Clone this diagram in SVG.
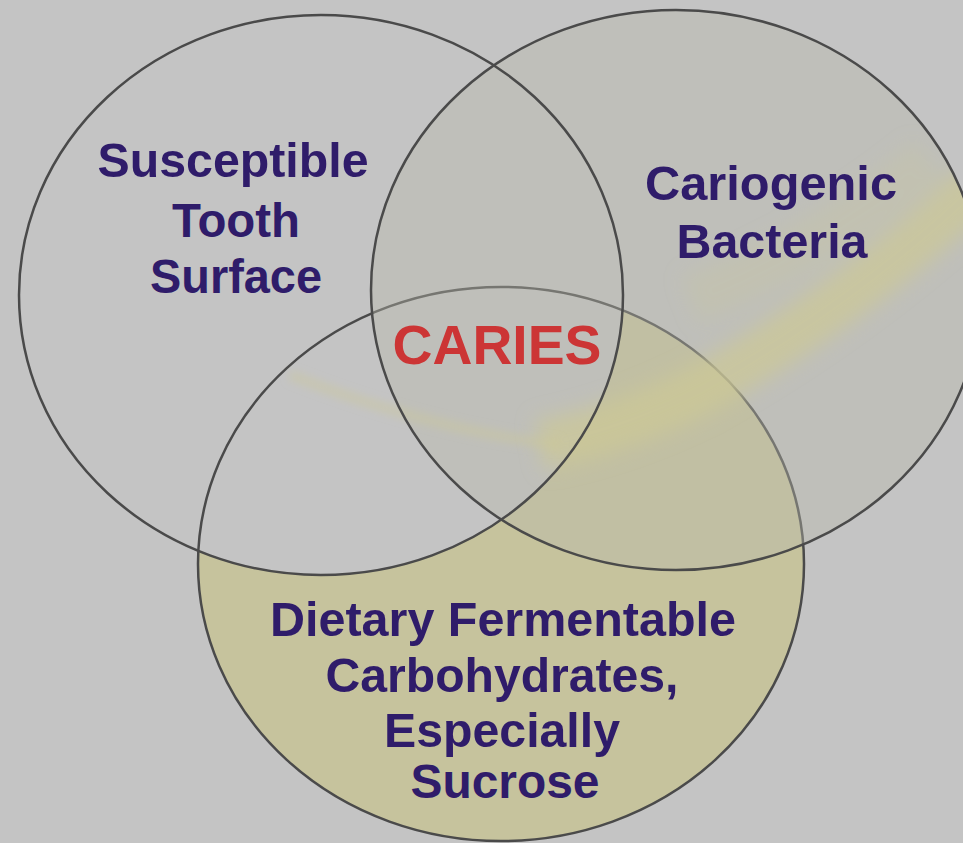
<svg xmlns="http://www.w3.org/2000/svg" width="963" height="843" viewBox="0 0 963 843">
  <style>
    .ring { fill: none; stroke: #4a4a4a; stroke-width: 2.5; }
    .lbl { font-family: "Liberation Sans", Arial, sans-serif; font-weight: bold; font-size: 48px; fill: #2f1c6a; text-anchor: middle; }
    .core { font-family: "Liberation Sans", Arial, sans-serif; font-weight: bold; font-size: 56px; fill: #cc3535; text-anchor: middle; }
    .streak { fill: none; stroke: #cdc996; }
  </style>
  <defs>
    <clipPath id="outsideLeft">
      <path clip-rule="evenodd" d="M-10 -10H973V853H-10Z M19 295 a302 280 0 1 0 604 0 a302 280 0 1 0 -604 0Z"/>
    </clipPath>
    <clipPath id="insideRight">
      <ellipse cx="676" cy="290" rx="305" ry="280"/>
    </clipPath>
    <filter id="soft" x="-20%" y="-20%" width="140%" height="140%">
      <feGaussianBlur stdDeviation="10"/>
    </filter>
    <filter id="soft2" x="-20%" y="-20%" width="140%" height="140%">
      <feGaussianBlur stdDeviation="4"/>
    </filter>
  </defs>
  <rect x="0" y="0" width="963" height="843" fill="#c4c4c4"/>

  <g id="node-dietary">
    <ellipse cx="501" cy="564" rx="303" ry="277" fill="#c6c39d" clip-path="url(#outsideLeft)"/>
    <ellipse class="ring" cx="501" cy="564" rx="303" ry="277"/>
    <text class="lbl" x="503" y="636" textLength="466" lengthAdjust="spacingAndGlyphs">Dietary Fermentable</text>
    <text class="lbl" x="502" y="692" textLength="353" lengthAdjust="spacingAndGlyphs">Carbohydrates,</text>
    <text class="lbl" x="502" y="747" textLength="236" lengthAdjust="spacingAndGlyphs">Especially</text>
    <text class="lbl" x="505" y="798" textLength="189" lengthAdjust="spacingAndGlyphs">Sucrose</text>
  </g>

  <g id="node-bacteria">
    <ellipse cx="676" cy="290" rx="305" ry="280" fill="#b8b8ac" fill-opacity="0.4"/>
    <g clip-path="url(#insideRight)">
      <g filter="url(#soft)">
        <path class="streak" d="M990 175 Q860 300 700 390 Q620 430 540 445" stroke-width="50" stroke-opacity="0.7"/>
        <path class="streak" d="M930 160 Q820 250 690 300" stroke-width="50" stroke-opacity="0.25"/>
      </g>
    </g>
    <g filter="url(#soft2)">
      <path class="streak" d="M560 445 Q430 430 290 375" stroke-width="10" stroke-opacity="0.4"/>
    </g>
    <ellipse class="ring" cx="676" cy="290" rx="305" ry="280"/>
    <text class="lbl" x="771" y="200" textLength="252" lengthAdjust="spacingAndGlyphs">Cariogenic</text>
    <text class="lbl" x="772" y="258" textLength="191" lengthAdjust="spacingAndGlyphs">Bacteria</text>
  </g>

  <g id="node-tooth">
    <ellipse class="ring" cx="321" cy="295" rx="302" ry="280"/>
    <text class="lbl" x="233" y="177" textLength="271" lengthAdjust="spacingAndGlyphs">Susceptible</text>
    <text class="lbl" x="236" y="237" textLength="128" lengthAdjust="spacingAndGlyphs">Tooth</text>
    <text class="lbl" x="236" y="293" textLength="172" lengthAdjust="spacingAndGlyphs">Surface</text>
  </g>

  <g id="node-caries">
    <text class="core" x="497" y="364" textLength="209" lengthAdjust="spacingAndGlyphs">CARIES</text>
  </g>

  <g id="connectors"/>
</svg>
